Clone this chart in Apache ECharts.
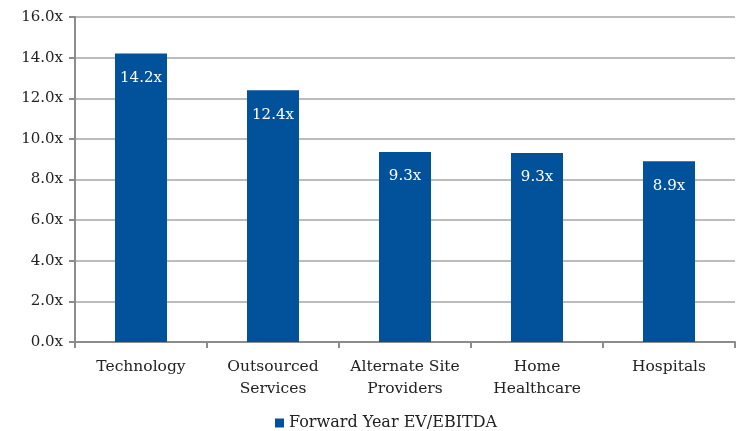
<!DOCTYPE html>
<html>
<head>
<meta charset="utf-8">
<script src="https://cdn.jsdelivr.net/npm/echarts@6/dist/echarts.min.js"></script>
<style>
  html, body { margin: 0; padding: 0; background: #fff; }
  #chart { width: 743px; height: 431px; }
</style>
</head>
<body>
<div id="chart"></div>
<script>
const categories = ['Technology', 'Outsourced\nServices', 'Alternate Site\nProviders', 'Home\nHealthcare', 'Hospitals'];
const multiples = [14.2, 12.4, 9.35, 9.3, 8.9];
const labels = ['14.2x', '12.4x', '9.3x', '9.3x', '8.9x'];
const seriesName = 'Forward Year EV/EBITDA';

const font = 'DejaVu Serif';
const chart = echarts.init(document.getElementById('chart'));

chart.setOption({
  animation: false,
  textStyle: { fontFamily: font },
  grid: { left: 75, right: 8, top: 17, bottom: 89 },
  legend: {
    data: [{ name: seriesName, icon: 'rect' }],
    left: 270, top: 410,
    itemWidth: 9, itemHeight: 9, itemGap: 4,
    textStyle: { fontFamily: font, fontSize: 16, color: '#222' }
  },
  xAxis: {
    type: 'category',
    data: categories,
    axisLine: { lineStyle: { color: '#8c8c8c', width: 2 } },
    axisTick: { show: true, length: 6, lineStyle: { color: '#8c8c8c', width: 2 } },
    axisLabel: { interval: 0, fontFamily: font, fontSize: 15.5, color: '#222', margin: 14, lineHeight: 22 }
  },
  yAxis: {
    type: 'value',
    min: 0, max: 16, interval: 2,
    axisLine: { show: true, lineStyle: { color: '#8c8c8c', width: 2 } },
    axisTick: { show: true, inside: false, length: 6, lineStyle: { color: '#8c8c8c', width: 2 } },
    splitLine: { lineStyle: { color: '#a6a6a6', width: 1.5 } },
    axisLabel: { fontFamily: font, fontSize: 15, color: '#222', margin: 12,
      formatter: v => v.toFixed(1) + 'x' }
  },
  series: [{
    name: seriesName,
    type: 'bar',
    data: multiples,
    barWidth: 52,
    itemStyle: { color: '#02519b' },
    label: {
      show: true, position: 'insideTop', distance: 17,
      color: '#fff', fontFamily: font, fontSize: 15,
      formatter: p => labels[p.dataIndex]
    }
  }]
});
</script>
</body>
</html>
